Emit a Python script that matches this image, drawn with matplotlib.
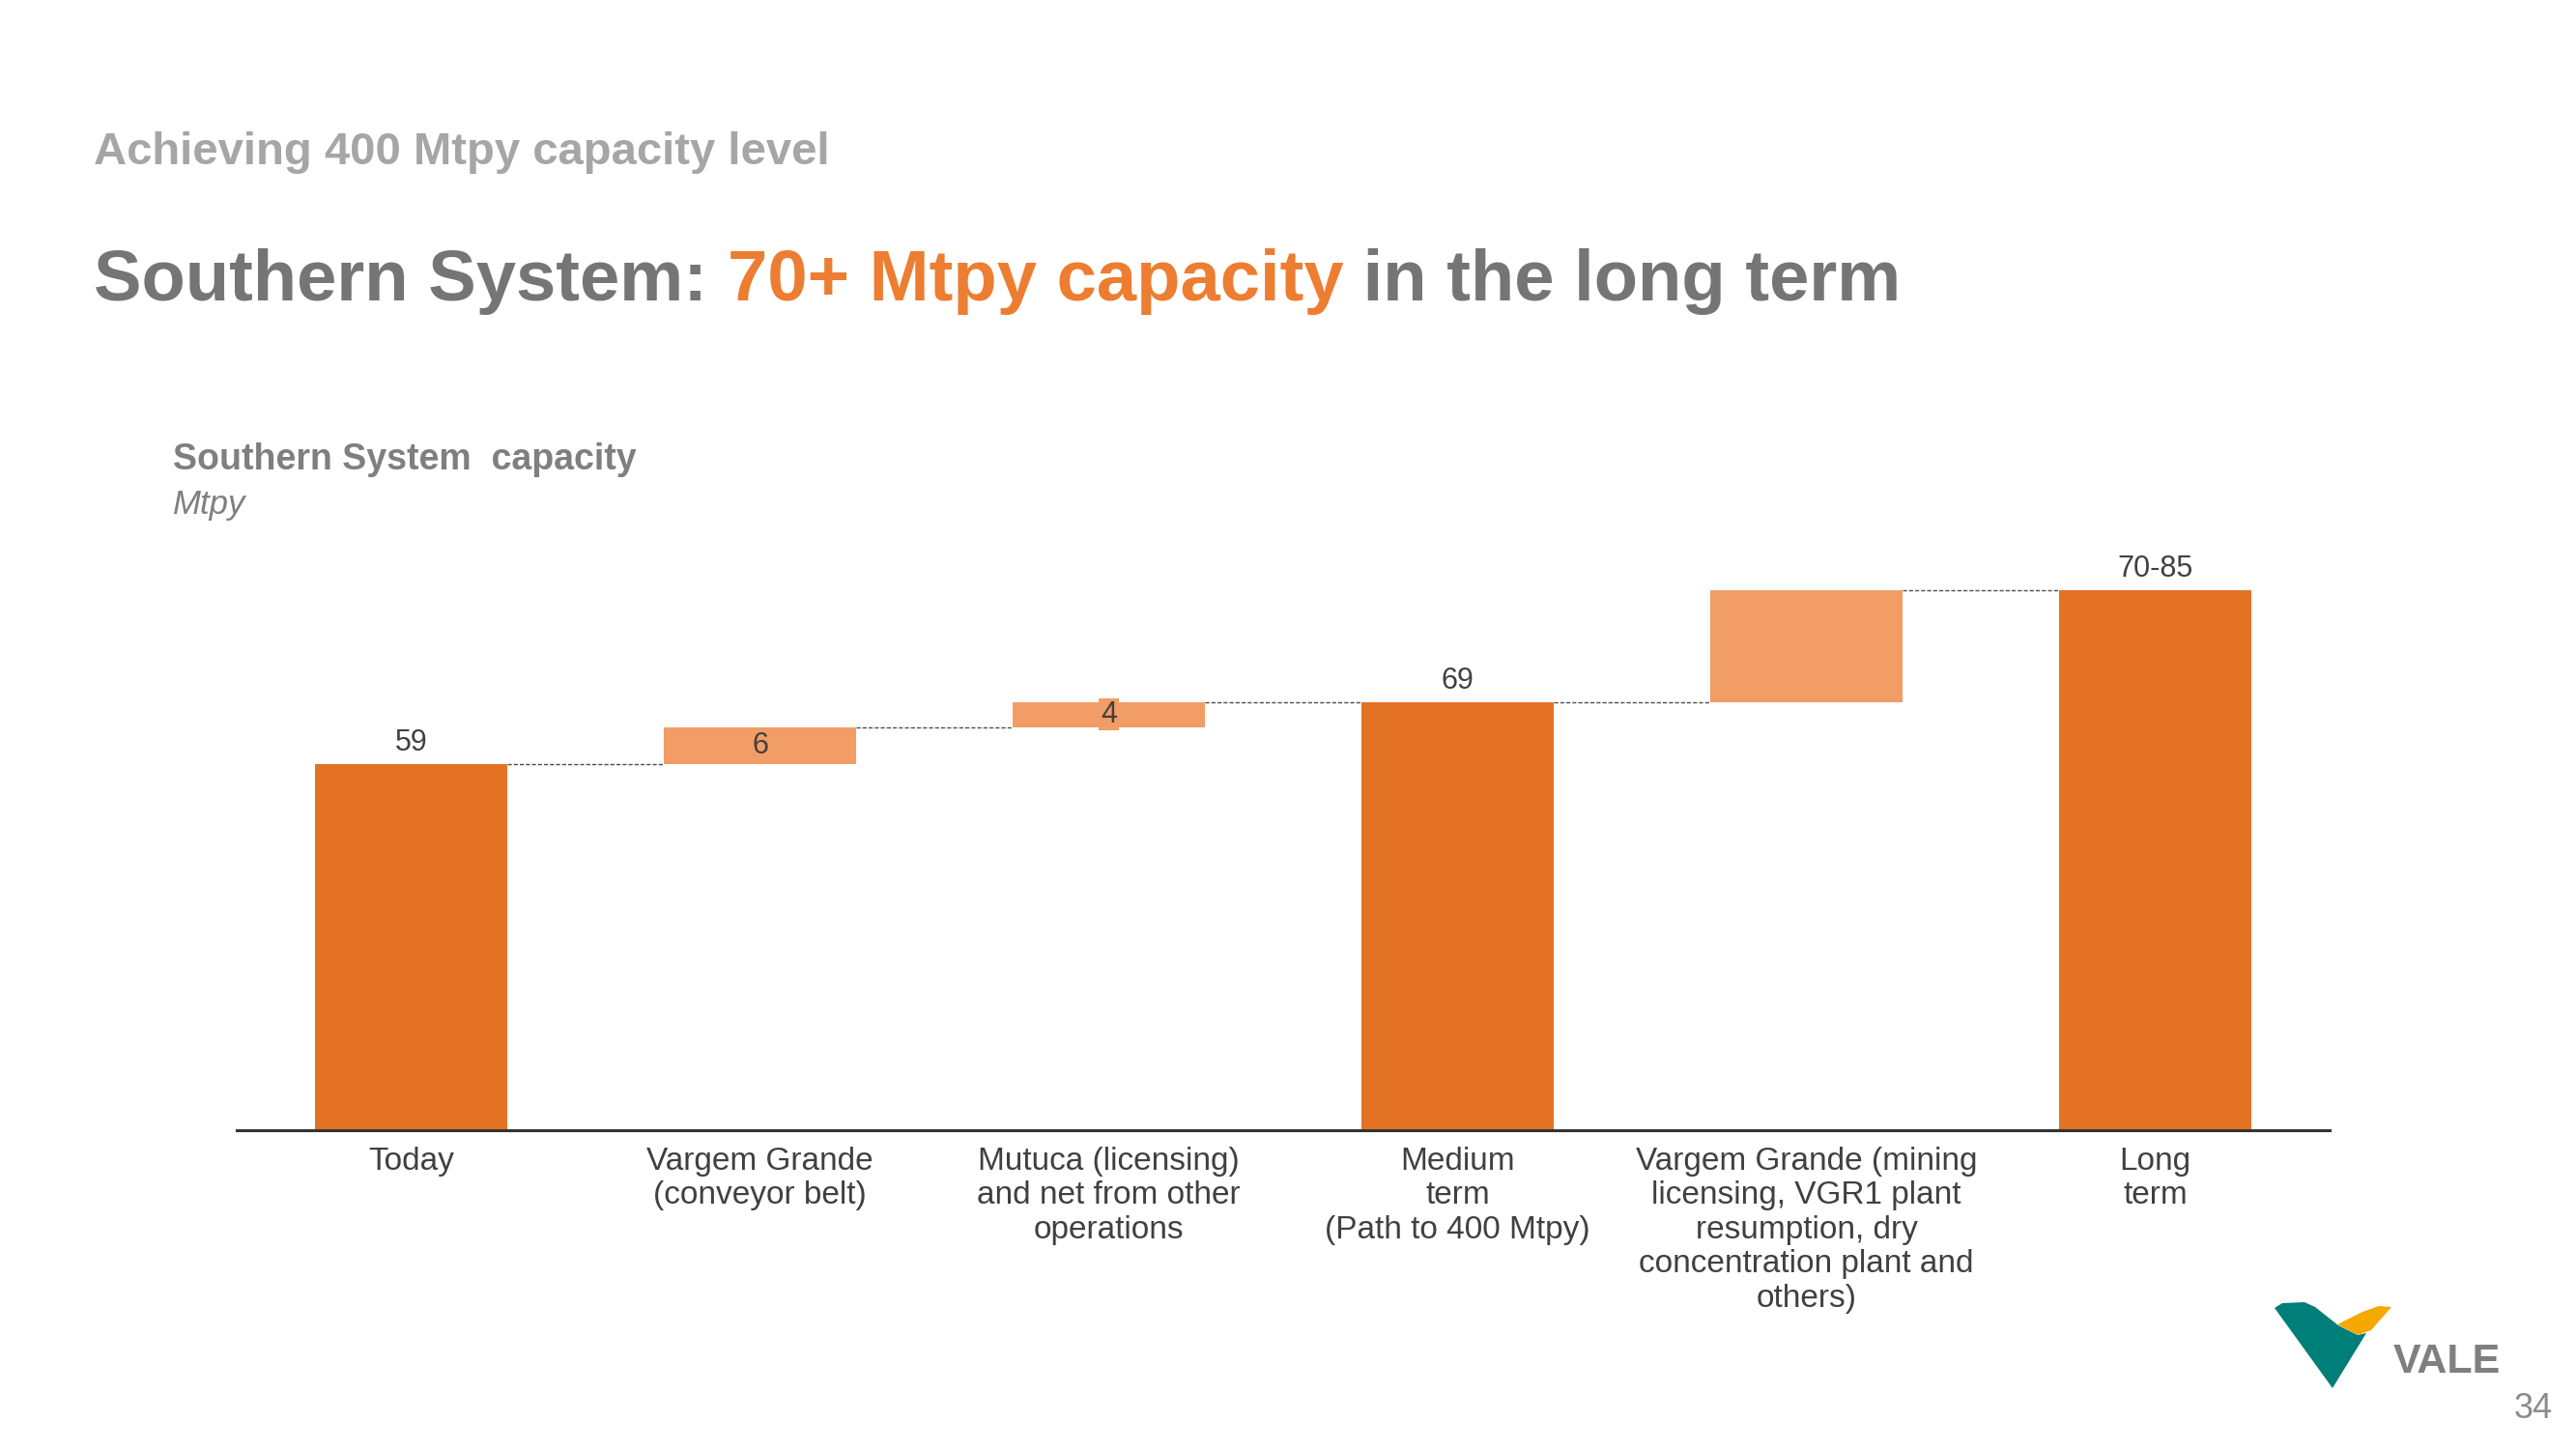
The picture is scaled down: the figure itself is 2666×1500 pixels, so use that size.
import matplotlib.pyplot as plt
from matplotlib.patches import Polygon

plt.rcParams['font.family'] = ['Liberation Sans', 'DejaVu Sans']

categories = [
    "Today",
    "Vargem Grande\n(conveyor belt)",
    "Mutuca (licensing)\nand net from other\noperations",
    "Medium\nterm\n(Path to 400 Mtpy)",
    "Vargem Grande (mining\nlicensing, VGR1 plant\nresumption, dry\nconcentration plant and\nothers)",
    "Long\nterm",
]
bar_values = [59, 6, 4, 69, 18, 87]
is_total = [True, False, False, True, False, True]
value_text = ["59", "6", "4", "69", "", "70-85"]

DARK = "#E37224"
LIGHT = "#F29D65"
GRAY_T = "#757575"
ORANGE_T = "#ED7D31"
TXT = "#404040"

fig = plt.figure(figsize=(26.66, 15), dpi=100)

# background layer in pixel coordinates for titles and logo
bg = fig.add_axes([0, 0, 1, 1])
bg.set_xlim(0, 2666)
bg.set_ylim(1500, 0)
bg.axis("off")

bg.text(97, 170, "Achieving 400 Mtpy capacity level", fontweight="bold",
        fontsize=34, color="#A6A6A6", va="baseline")

# title in three colored runs
TS = 53.5
t1 = bg.text(97, 311, "Southern System: ", fontweight="bold",
             fontsize=TS, color=GRAY_T, va="baseline")
fig.canvas.draw()
r = fig.canvas.get_renderer()
bb = t1.get_window_extent(r)
t2 = bg.text(bb.x1, 1500 - 311, "70+ Mtpy capacity", fontweight="bold",
             fontsize=TS, color=ORANGE_T, va="baseline", transform=None)
bb = t2.get_window_extent(r)
bg.text(bb.x1, 1500 - 311, " in the long term", fontweight="bold",
        fontsize=TS, color=GRAY_T, va="baseline", transform=None)

bg.text(179, 486, "Southern System  capacity", fontweight="bold", fontsize=27,
        color="#7F7F7F", va="baseline")
bg.text(179, 532, "Mtpy", fontstyle="italic", fontsize=25, color="#7F7F7F",
        va="baseline")

# page number and logo
bg.text(2642, 1468, "34", fontsize=26, color="#8C8C8C", ha="right", va="baseline")
teal = [(2354, 1354), (2362, 1349), (2385, 1348), (2396, 1353), (2420, 1372),
        (2440, 1382), (2449, 1380), (2414, 1437)]
yellow = [(2419, 1371), (2445, 1358), (2462, 1352), (2475, 1353), (2468, 1361),
          (2454, 1377), (2440, 1382)]
bg.add_patch(Polygon(teal, closed=True, facecolor="#007E7A", edgecolor="none"))
bg.add_patch(Polygon(yellow, closed=True, facecolor="#F5A800", edgecolor="none"))
bg.text(2477, 1421, "VALE", fontweight="bold", fontsize=31, color="#7F7F7F",
        va="baseline")

# waterfall
ax = fig.add_axes([245 / 2666, 1 - 1170 / 1500, 2166 / 2666, 642 / 1500])
ax.set_xlim(-0.5, len(categories) - 0.5)
ax.set_ylim(0, 100)
width = 0.55

level = 0
bottoms, tops = [], []
for v, tot in zip(bar_values, is_total):
    if tot:
        b, t = 0, v
    else:
        b, t = level, level + v
    bottoms.append(b)
    tops.append(t)
    level = t

for i, (b, t, tot) in enumerate(zip(bottoms, tops, is_total)):
    ax.bar(i, t - b, bottom=b, width=width, color=DARK if tot else LIGHT,
           edgecolor="none", zorder=2)
    lbl = value_text[i]
    if not lbl:
        continue
    if tot:
        ax.text(i, t + 1.1, lbl, ha="center", va="bottom", fontsize=22, color=TXT)
    else:
        box = None
        if t - b < 5:
            box = dict(facecolor=LIGHT, edgecolor="none", pad=1)
        ax.text(i, (b + t) / 2, lbl, ha="center", va="center", fontsize=22,
                color=TXT, bbox=box, zorder=3)

for i in range(len(categories) - 1):
    ax.plot([i + width / 2, i + 1 - width / 2], [tops[i], tops[i]],
            ls=(0, (3, 1.5)), lw=1.0, color="#4D4D4D", zorder=1)

ax.set_xticks(range(len(categories)))
ax.set_xticklabels(categories, fontsize=24, color=TXT, linespacing=1.19)
ax.tick_params(axis="x", length=0, pad=12)
ax.set_yticks([])
for s in ["top", "left", "right"]:
    ax.spines[s].set_visible(False)
ax.spines["bottom"].set_color("#333333")
ax.spines["bottom"].set_linewidth(2.2)
ax.patch.set_alpha(0)

fig.savefig("out.png", dpi=100)
